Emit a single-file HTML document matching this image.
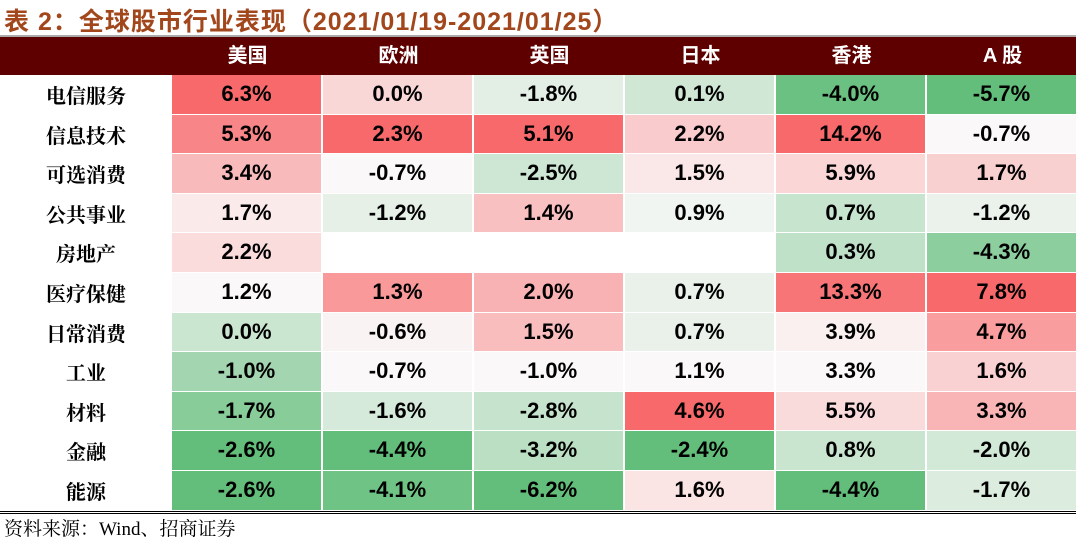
<!DOCTYPE html>
<html><head><meta charset="utf-8"><style>
body{margin:0;width:1080px;height:545px;background:#fff;position:relative;overflow:hidden;font-family:"Liberation Sans","Noto Sans CJK SC",sans-serif}
#title{position:absolute;left:4px;top:2px;font-size:25px;font-weight:bold;color:#A2461C;white-space:nowrap;letter-spacing:1px}
#topline{position:absolute;left:0;top:35px;width:1076px;height:2px;background:#aaa}
#hdr{position:absolute;left:0;top:37px;width:1076px;height:38px;background:#5E0000}
.h{position:absolute;top:37px;height:38px;line-height:38px;color:#fff;font-weight:bold;font-size:20px;text-align:center}
.lab{position:absolute;left:0;width:172px;text-align:center;font-weight:bold;font-size:20px;font-family:"Noto Serif CJK SC","Noto Sans CJK SC",serif}
.c{position:absolute;text-align:center;font-weight:bold;font-size:22px;color:#000}
#botline{position:absolute;left:0;top:511px;width:1076px;height:3px;border-top:1px solid #000;border-bottom:1px solid #000;box-sizing:border-box}
#src{position:absolute;left:4px;top:514px;font-size:19px;font-family:"Liberation Serif","Noto Serif CJK SC",serif}
</style></head><body>
<div id="title">表 2：全球股市行业表现（2021/01/19-2021/01/25）</div>
<div id="topline"></div>
<div id="hdr"></div>
<div id="tbl"></div>
<div id="botline"></div>
<div id="src">资料来源：Wind、招商证券</div>
<script>
const markets=["美国","欧洲","英国","日本","香港","A 股"];
const sectors=["电信服务","信息技术","可选消费","公共事业","房地产","医疗保健","日常消费","工业","材料","金融","能源"];
const usVals=[6.3,5.3,3.4,1.7,2.2,1.2,0.0,-1.0,-1.7,-2.6,-2.6];
const euVals=[0.0,2.3,-0.7,-1.2,null,1.3,-0.6,-0.7,-1.6,-4.4,-4.1];
const ukVals=[-1.8,5.1,-2.5,1.4,null,2.0,1.5,-1.0,-2.8,-3.2,-6.2];
const jpVals=[0.1,2.2,1.5,0.9,null,0.7,0.7,1.1,4.6,-2.4,1.6];
const hkVals=[-4.0,14.2,5.9,0.7,0.3,13.3,3.9,3.3,5.5,0.8,-4.4];
const cnVals=[-5.7,-0.7,1.7,-1.2,-4.3,7.8,4.7,1.6,3.3,-2.0,-1.7];
const cols=[usVals,euVals,ukVals,jpVals,hkVals,cnVals];
const X0=172,CW=151,Y0=75,RH=39.6;
function colX(i){return X0+i*CW;}
function rowY(j){return Y0+j*RH;}
const G=[99,190,123],W=[250,248,248],R=[248,105,107];
function mix(a,b,t){return 'rgb('+a.map((v,k)=>Math.round(v+(b[k]-v)*t)).join(',')+')';}
function colorFor(v,arr){
  const vs=arr.filter(x=>x!==null).slice().sort((a,b)=>a-b);
  const mn=vs[0],mx=vs[vs.length-1],md=vs[Math.floor(vs.length/2)];
  if(v>=md)return mix(W,R,mx===md?0:(v-md)/(mx-md));
  return mix(W,G,md===mn?0:(md-v)/(md-mn));
}
const tbl=document.getElementById('tbl');
markets.forEach((m,i)=>{
  const h=document.createElement('div');h.className='h';
  
  
  h.style.left=colX(i)+'px';h.style.width=CW+'px';h.textContent=m;tbl.appendChild(h);
});
sectors.forEach((s,j)=>{
  const l=document.createElement('div');l.className='lab';
  
  
  l.style.top=rowY(j)+'px';l.style.height=RH+'px';l.style.lineHeight=RH+'px';l.textContent=s;tbl.appendChild(l);
  cols.forEach((arr,i)=>{
    const v=arr[j];
    const c=document.createElement('div');c.className='c';
    
    
    c.style.left=colX(i)+'px';c.style.top=rowY(j)+'px';c.style.width=(CW-2)+'px';c.style.height=(RH-1)+'px';c.style.lineHeight=(RH-1)+'px';
    if(v===null){c.style.background='#fff';}
    else{c.style.background=colorFor(v,arr);c.textContent=v.toFixed(1)+'%';}
    tbl.appendChild(c);
  });
});
</script>
</body></html>
